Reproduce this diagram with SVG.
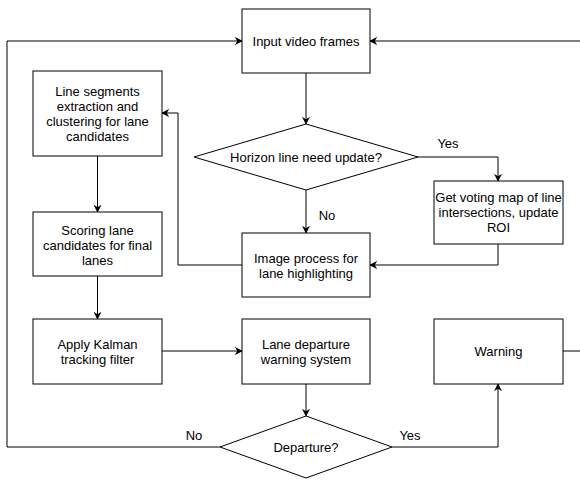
<svg xmlns="http://www.w3.org/2000/svg" width="580" height="480" viewBox="0 0 580 480">
<defs>
<marker id="arr" viewBox="0 0 10 10" refX="9" refY="5" markerWidth="8" markerHeight="8" markerUnits="userSpaceOnUse" orient="auto">
<path d="M0,0 L10,5 L0,10 L3,5 Z" fill="#000"/>
</marker>
<style>
.box{fill:#fff;stroke:#000;stroke-width:1}
.t{font-family:"Liberation Sans",Arial,sans-serif;font-size:13px;fill:#000;text-anchor:middle}
.c{fill:none;stroke:#000;stroke-width:1}
</style>
</defs>
<rect width="580" height="480" fill="#fff"/>
<g id="connectors">
<path class="c" d="M306,73 V124" marker-end="url(#arr)"/>
<path class="c" d="M418,157 H498 V181" marker-end="url(#arr)"/>
<path class="c" d="M306,190 V233" marker-end="url(#arr)"/>
<path class="c" d="M498,244 V265 H370" marker-end="url(#arr)"/>
<path class="c" d="M242,265 H178 V113 H162" marker-end="url(#arr)"/>
<path class="c" d="M97.5,156 V212" marker-end="url(#arr)"/>
<path class="c" d="M97.5,276 V319" marker-end="url(#arr)"/>
<path class="c" d="M162,351 H242" marker-end="url(#arr)"/>
<path class="c" d="M306,384 V416" marker-end="url(#arr)" stroke-width="1.5"/>
<path class="c" d="M392,447 H498 V384" marker-end="url(#arr)"/>
<path class="c" d="M220,447 H7 V41 H242" marker-end="url(#arr)"/>
<path class="c" d="M563,351 H580"/>
<path class="c" d="M580,41 H370" marker-end="url(#arr)"/>
<text class="t" x="448" y="148">Yes</text>
<text class="t" x="327" y="220">No</text>
<text class="t" x="410" y="440">Yes</text>
<text class="t" x="194" y="440">No</text>
</g>
<g id="input">
<rect class="box" x="242" y="9" width="128" height="64"/>
<text class="t" x="306" y="45.5">Input video frames</text>
</g>
<g id="horizon">
<polygon class="box" points="194,157 306,124 418,157 306,190"/>
<text class="t" x="306" y="161.5">Horizon line need update?</text>
</g>
<g id="voting">
<rect class="box" x="434" y="181" width="129" height="63"/>
<text class="t" x="498.5" y="201.5">Get voting map of line</text>
<text class="t" x="498.5" y="216.5">intersections, update</text>
<text class="t" x="498.5" y="231.5">ROI</text>
</g>
<g id="image">
<rect class="box" x="242" y="233" width="128" height="64"/>
<text class="t" x="306" y="262.5">Image process for</text>
<text class="t" x="306" y="277.5">lane highlighting</text>
</g>
<g id="segments">
<rect class="box" x="33" y="71" width="129" height="85"/>
<text class="t" x="97.5" y="95.5">Line segments</text>
<text class="t" x="97.5" y="110.5">extraction and</text>
<text class="t" x="97.5" y="125.5">clustering for lane</text>
<text class="t" x="97.5" y="140.5">candidates</text>
</g>
<g id="scoring">
<rect class="box" x="33" y="212" width="129" height="64"/>
<text class="t" x="97.5" y="234.5">Scoring lane</text>
<text class="t" x="97.5" y="249.5">candidates for final</text>
<text class="t" x="97.5" y="264.5">lanes</text>
</g>
<g id="kalman">
<rect class="box" x="33" y="319" width="129" height="65"/>
<text class="t" x="97.5" y="348.5">Apply Kalman</text>
<text class="t" x="97.5" y="363.5">tracking filter</text>
</g>
<g id="ldws">
<rect class="box" x="242" y="319" width="128" height="65"/>
<text class="t" x="306" y="348.5">Lane departure</text>
<text class="t" x="306" y="363.5">warning system</text>
</g>
<g id="warning">
<rect class="box" x="434" y="319" width="129" height="65"/>
<text class="t" x="498.5" y="355.5">Warning</text>
</g>
<g id="departure">
<polygon class="box" points="220,447 306,416 392,447 306,478"/>
<text class="t" x="306" y="451.5">Departure?</text>
</g>
</svg>
